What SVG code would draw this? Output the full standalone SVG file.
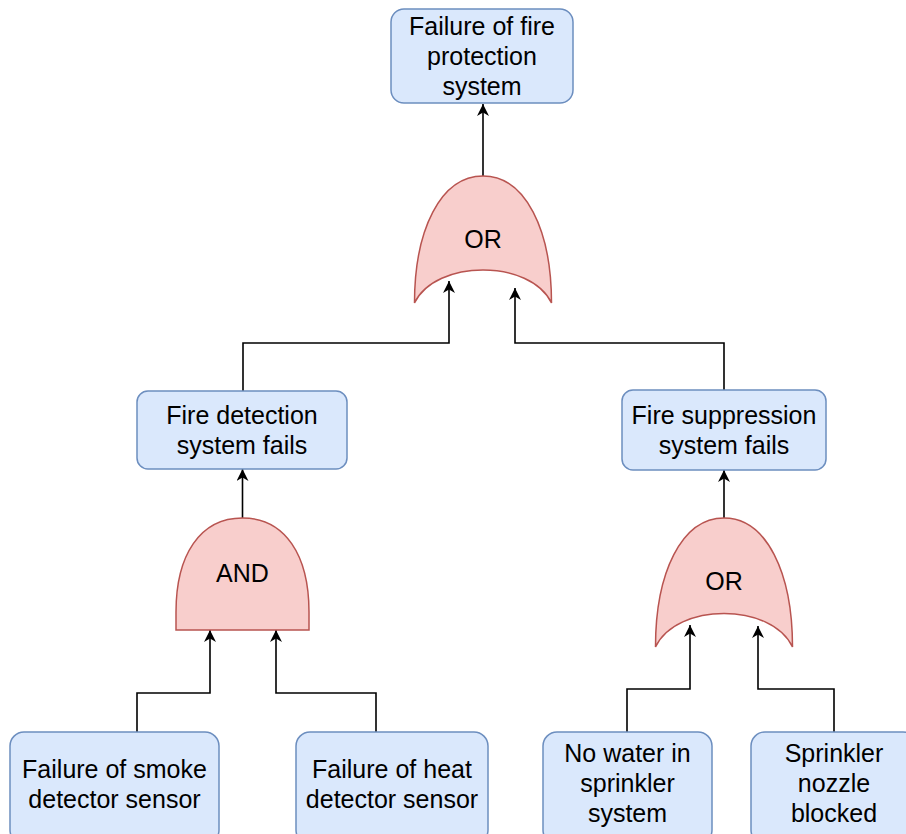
<svg xmlns="http://www.w3.org/2000/svg" xmlns:xlink="http://www.w3.org/1999/xlink" width="906" height="834" viewBox="0 0 906 834">
<style>
.box{fill:#dae8fc;stroke:#6c8ebf;stroke-width:1.5}
.gate{fill:#f8cecc;stroke:#b85450;stroke-width:1.5}
.lbl{font-family:"Liberation Sans",Arial,Helvetica,sans-serif;font-size:25px;fill:#000;text-anchor:middle}
.conn{fill:none;stroke:#000;stroke-width:1.6}
</style>
<defs>
<marker id="arr" markerUnits="userSpaceOnUse" viewBox="0 0 12 12" markerWidth="12" markerHeight="12" refX="12" refY="6" orient="auto">
<path d="M12,6 L0,0 L3.5,6 L0,12 Z" fill="#000"/>
</marker>
<path id="orShape" d="M0,127 C0,54 26,0 68.5,0 C111,0 137,54 137,127 C116,83 21,83 0,127 Z"/>
</defs>
<rect width="906" height="834" fill="#fff"/>
<g id="connectors" class="conn">
<path d="M483,176 L483,104" marker-end="url(#arr)"/>
<path d="M243,391 L243,343 L449,343 L449,281" marker-end="url(#arr)"/>
<path d="M724,390 L724,343 L515,343 L515,288" marker-end="url(#arr)"/>
<path d="M242.5,518 L242.5,469" marker-end="url(#arr)"/>
<path d="M724,518 L724,470" marker-end="url(#arr)"/>
<path d="M137,732 L137,693 L210,693 L210,630" marker-end="url(#arr)"/>
<path d="M376,732 L376,693 L276,693 L276,630" marker-end="url(#arr)"/>
<path d="M627,732 L627,689 L690,689 L690,625" marker-end="url(#arr)"/>
<path d="M834,732 L834,689 L758,689 L758,626" marker-end="url(#arr)"/>
</g>
<g id="top">
<rect class="box" x="391" y="9" width="182" height="94" rx="13"/>
<text class="lbl" x="482" y="35">Failure of fire</text>
<text class="lbl" x="482" y="65">protection</text>
<text class="lbl" x="482" y="95">system</text>
</g>
<g id="or1">
<use xlink:href="#orShape" href="#orShape" class="gate" transform="translate(414.5,176)"/>
<text class="lbl" x="483" y="248">OR</text>
</g>
<g id="detection">
<rect class="box" x="137" y="391" width="210" height="78" rx="11"/>
<text class="lbl" x="242" y="424">Fire detection</text>
<text class="lbl" x="242" y="454">system fails</text>
</g>
<g id="suppression">
<rect class="box" x="622" y="390" width="204" height="80" rx="11"/>
<text class="lbl" x="724" y="424">Fire suppression</text>
<text class="lbl" x="724" y="454">system fails</text>
</g>
<g id="and">
<path class="gate" d="M176,630 L176,612 C176,555 200,518 242.5,518 C285,518 309,555 309,612 L309,630 Z"/>
<text class="lbl" x="242.5" y="582">AND</text>
</g>
<g id="or2">
<use xlink:href="#orShape" href="#orShape" class="gate" transform="translate(655.5,518) scale(1,1.016)"/>
<text class="lbl" x="724" y="590">OR</text>
</g>
<g id="smoke">
<rect class="box" x="10" y="732" width="209" height="112" rx="14"/>
<text class="lbl" x="114.5" y="778">Failure of smoke</text>
<text class="lbl" x="114.5" y="808">detector sensor</text>
</g>
<g id="heat">
<rect class="box" x="296" y="732" width="192" height="112" rx="14"/>
<text class="lbl" x="392" y="778">Failure of heat</text>
<text class="lbl" x="392" y="808">detector sensor</text>
</g>
<g id="nowater">
<rect class="box" x="543" y="732" width="169" height="112" rx="14"/>
<text class="lbl" x="627.5" y="762">No water in</text>
<text class="lbl" x="627.5" y="792">sprinkler</text>
<text class="lbl" x="627.5" y="822">system</text>
</g>
<g id="nozzle">
<rect class="box" x="751" y="732" width="166" height="112" rx="14"/>
<text class="lbl" x="834" y="762">Sprinkler</text>
<text class="lbl" x="834" y="792">nozzle</text>
<text class="lbl" x="834" y="822">blocked</text>
</g>
</svg>
